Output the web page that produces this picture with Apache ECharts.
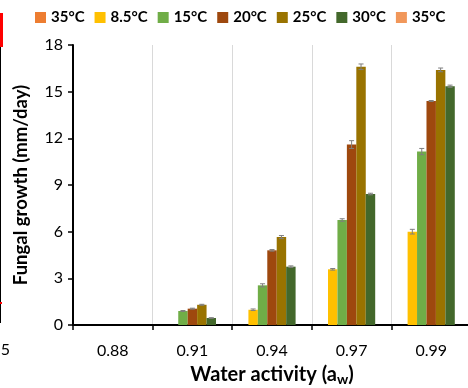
<!DOCTYPE html>
<html>
<head>
<meta charset="utf-8">
<script src="https://cdn.jsdelivr.net/npm/echarts@6/dist/echarts.min.js"></script>
<style>
  html, body { margin: 0; padding: 0; background: #fff; }
  #chart { width: 468px; height: 388px; }
</style>
</head>
<body>
<div id="chart"></div>
<script>
var categories = ['0.88', '0.91', '0.94', '0.97', '0.99'];
// the two 35°C entries need distinct keys for the legend
var seriesNames = ['35°C', '8.5°C', '15°C', '20°C', '25°C', '30°C', '35°C '];
var colors = ['#ED7D31', '#FFC000', '#70AD47', '#9E480E', '#997300', '#43682B', '#F1975A'];

var t35a = [0, 0, 0, 0, 0];
var t8_5 = [0, 0, 0.98, 3.58, 6.0];
var t15 = [0, 0.9, 2.55, 6.75, 11.15];
var t20 = [0, 1.05, 4.8, 11.6, 14.4];
var t25 = [0, 1.3, 5.65, 16.6, 16.4];
var t30 = [0, 0.45, 3.75, 8.42, 15.35];
var t35b = [0, 0, 0, 0, 0];

var e35a = [0, 0, 0, 0, 0];
var e8_5 = [0, 0, 0.05, 0.05, 0.15];
var e15 = [0, 0.03, 0.1, 0.08, 0.2];
var e20 = [0, 0.03, 0.05, 0.25, 0.03];
var e25 = [0, 0.03, 0.1, 0.18, 0.12];
var e30 = [0, 0.02, 0.05, 0.05, 0.07];
var e35b = [0, 0, 0, 0, 0];

var yTicks = [0, 3, 6, 9, 12, 15, 18];

var values = [t35a, t8_5, t15, t20, t25, t30, t35b];
var errors = [e35a, e8_5, e15, e20, e25, e30, e35b];

var font = 'Lato, "Open Sans", sans-serif';
var catGap = 0.17;

var chart = echarts.init(document.getElementById('chart'));

var series = [];
values.forEach(function (vals, i) {
  series.push({
    name: seriesNames[i],
    type: 'bar',
    data: vals,
    barGap: 0,
    barCategoryGap: (catGap * 100) + '%',
    itemStyle: { color: colors[i] }
  });
});

values.forEach(function (vals, i) {
  var data = [];
  vals.forEach(function (v, c) {
    if (v > 0) data.push([c, v, errors[i][c]]);
  });
  series.push({
    type: 'custom',
    silent: true,
    z: 10,
    data: data,
    renderItem: function (params, api) {
      var c = api.value(0), v = api.value(1), e = api.value(2);
      var catW = api.size([1, 0])[0];
      var barW = catW * (1 - catGap) / values.length;
      var mid = api.coord([c, v]);
      var x = mid[0] + (i - (values.length - 1) / 2) * barW;
      var hi = api.coord([c, v + e])[1];
      var lo = api.coord([c, v - e])[1];
      var style = { stroke: '#7f7f7f', lineWidth: 1 };
      return {
        type: 'group',
        children: [
          { type: 'line', shape: { x1: x, y1: hi, x2: x, y2: lo }, style: style },
          { type: 'line', shape: { x1: x - 2.5, y1: hi, x2: x + 2.5, y2: hi }, style: style },
          { type: 'line', shape: { x1: x - 2.5, y1: lo, x2: x + 2.5, y2: lo }, style: style }
        ]
      };
    }
  });
});

chart.setOption({
  animation: false,
  textStyle: { fontFamily: font },
  legend: {
    top: 5,
    left: 30,
    itemWidth: 11,
    itemHeight: 11,
    itemGap: 10,
    icon: 'rect',
    data: seriesNames.map(function (n, i) { return { name: n, itemStyle: { color: colors[i] } }; }),
    textStyle: { fontFamily: font, fontWeight: 'bold', fontSize: 15, color: '#000' }
  },
  grid: { left: 73, right: -3, top: 45, bottom: 63, outerBoundsMode: 'none' },
  xAxis: {
    type: 'category',
    data: categories,
    name: 'Water activity (a{w|w})',
    nameLocation: 'middle',
    nameGap: 39,
    nameTextStyle: {
      fontFamily: font, fontWeight: 'bold', fontSize: 20, color: '#000',
      rich: { w: { fontFamily: font, fontWeight: 'bold', fontSize: 14, color: '#000', padding: [8, 0, 0, 0] } }
    },
    axisLine: { lineStyle: { color: '#000', width: 2 } },
    axisTick: { show: true, length: 5, lineStyle: { color: '#000', width: 1.5 } },
    axisLabel: { fontFamily: font, fontSize: 16, color: '#000', margin: 18 },
    splitLine: { show: true, lineStyle: { color: '#d9d9d9', width: 1 } }
  },
  yAxis: {
    type: 'value',
    min: yTicks[0],
    max: yTicks[yTicks.length - 1],
    interval: 3,
    name: 'Fungal growth (mm/day)',
    nameLocation: 'middle',
    nameGap: 42,
    nameTextStyle: { fontFamily: font, fontWeight: 'bold', fontSize: 18.5, color: '#000' },
    axisLine: { show: true, lineStyle: { color: '#000', width: 2 } },
    axisTick: { show: true, inside: false, length: 5, lineStyle: { color: '#000', width: 1.5 } },
    axisLabel: { fontFamily: font, fontSize: 16, color: '#000', margin: 10 },
    splitLine: { show: false }
  },
  graphic: [
    { type: 'rect', left: 0, top: 13, shape: { width: 3, height: 34 }, style: { fill: '#ff0000' } },
    { type: 'rect', left: 0, top: 47, shape: { width: 1, height: 276 }, style: { fill: '#000' } },
    { type: 'rect', left: 0, top: 302, shape: { width: 2, height: 2 }, style: { fill: '#ff0000' } },
    { type: 'text', left: -3, top: 342, style: { text: '.5', font: '16px ' + font, fill: '#000' } }
  ],
  series: series
});
</script>
</body>
</html>
